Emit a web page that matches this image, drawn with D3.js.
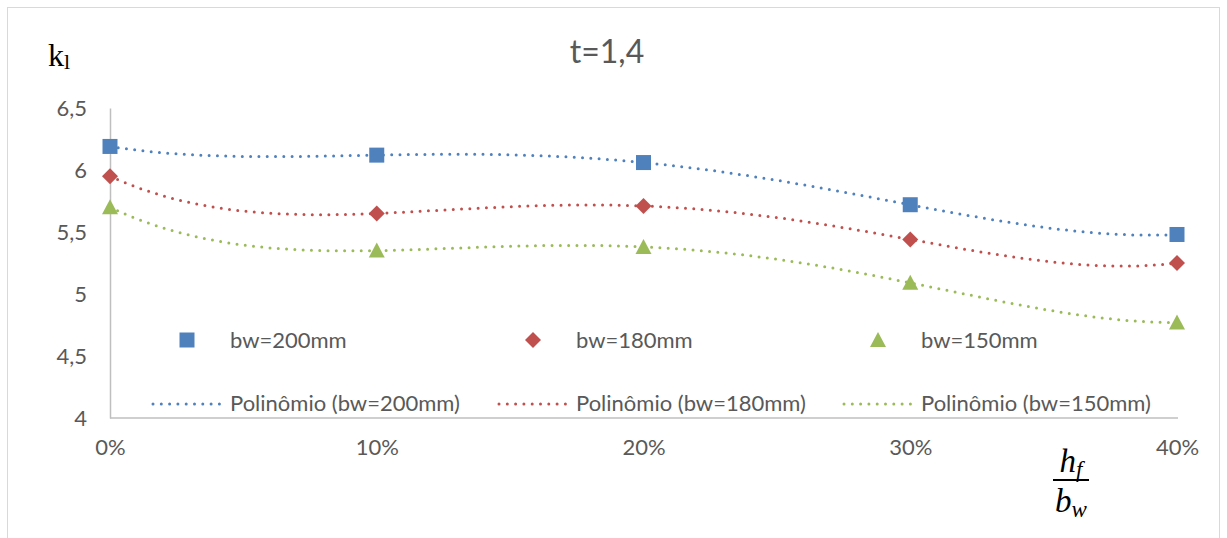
<!DOCTYPE html>
<html>
<head>
<meta charset="utf-8">
<script src="https://cdn.jsdelivr.net/npm/d3@7"></script>
<style>
  body { margin: 0; background: #fff; }
  svg { display: block; }
</style>
</head>
<body>
<div id="container"></div>
<script>
// data
let categories = ["0%", "10%", "20%", "30%", "40%"];
let bw200 = [6.19, 6.12, 6.06, 5.72, 5.48];
let bw180 = [5.95, 5.65, 5.71, 5.44, 5.25];
let bw150 = [5.70, 5.35, 5.38, 5.09, 4.77];
let seriesNames = ["bw=200mm", "bw=180mm", "bw=150mm"];
let yTicks = [4, 4.5, 5, 5.5, 6, 6.5];

let w = 1227;
let h = 538;
let colors = ["#4F81BD", "#C0504D", "#9BBB59"];
let textColor = "#595959";
let font = "Lato, 'Open Sans', sans-serif";

let series = [bw200, bw180, bw150].map(function(vals, i){
  return { name: seriesNames[i], values: vals, color: colors[i], shape: i };
});

let viz = d3.select("#container")
  .append("svg")
    .attr("width", w)
    .attr("height", h)
;

// outer frame
viz.append("rect")
  .attr("x", 7.5).attr("y", 7.5)
  .attr("width", 1212).attr("height", 560)
  .attr("fill", "none")
  .attr("stroke", "#D9D9D9");

let x = d3.scalePoint().domain(categories).range([110, 1177]);
let y = d3.scaleLinear().domain([4, 6.5]).range([418, 108]);

let locale = d3.formatLocale({ decimal: ",", thousands: ".", grouping: [3], currency: ["", ""] });
let fmt = locale.format("~g");

// axes
let yAxis = viz.append("g")
  .attr("transform", "translate(110,0)")
  .call(d3.axisLeft(y).tickValues(yTicks).tickFormat(fmt).tickSize(0).tickPadding(23));
let xAxis = viz.append("g")
  .attr("transform", "translate(0,418)")
  .call(d3.axisBottom(x).tickSize(0).tickPadding(21));

[yAxis, xAxis].forEach(function(g){
  g.select(".domain").attr("stroke", "#BFBFBF").attr("stroke-width", 1.5);
  g.selectAll("text").attr("fill", textColor).style("font-family", font).style("font-size", "22px");
});
// x axis line ends at last category
xAxis.select(".domain").attr("d", "M110,0H1178");

// polynomial trendline (order 4, least squares on category index)
function polyfit(xs, ys, order){
  let n = order + 1;
  let A = [];
  for (let r = 0; r < n; r++){
    A.push([]);
    for (let c = 0; c <= n; c++) A[r].push(0);
  }
  xs.forEach(function(xv, k){
    for (let r = 0; r < n; r++){
      for (let c = 0; c < n; c++) A[r][c] += Math.pow(xv, r + c);
      A[r][n] += ys[k] * Math.pow(xv, r);
    }
  });
  for (let i = 0; i < n; i++){
    let p = i;
    for (let r = i + 1; r < n; r++) if (Math.abs(A[r][i]) > Math.abs(A[p][i])) p = r;
    let t = A[i]; A[i] = A[p]; A[p] = t;
    for (let r = 0; r < n; r++){
      if (r === i) continue;
      let f = A[r][i] / A[i][i];
      for (let c = i; c <= n; c++) A[r][c] -= f * A[i][c];
    }
  }
  return A.map(function(row, i){ return row[n] / row[i]; });
}

let idx = d3.scaleLinear().domain([1, categories.length]).range([110, 1177]);
let lineMaker = d3.line()
  .x(function(d){ return idx(d[0]); })
  .y(function(d){ return y(d[1]); })
;

series.forEach(function(s){
  let xs = s.values.map(function(d, i){ return i + 1; });
  let coef = polyfit(xs, s.values, 4);
  let pts = d3.range(1, categories.length + 0.001, 0.02).map(function(t){
    let v = 0;
    coef.forEach(function(c, k){ v += c * Math.pow(t, k); });
    return [t, v];
  });
  viz.append("path")
    .datum(pts)
    .attr("d", lineMaker)
    .attr("fill", "none")
    .attr("stroke", s.color)
    .attr("stroke-width", 3)
    .attr("stroke-linecap", "round")
    .attr("stroke-dasharray", "0 8.3");
});

// markers
function marker(g, shape, color){
  if (shape === 0){
    g.append("rect").attr("x", -7.5).attr("y", -7.5).attr("width", 15).attr("height", 15).attr("fill", color);
  } else if (shape === 1){
    g.append("path").attr("d", "M0,-8L8,0L0,8L-8,0Z").attr("fill", color);
  } else {
    g.append("path").attr("d", "M0,-8L8,7L-8,7Z").attr("fill", color);
  }
}

series.forEach(function(s){
  s.values.forEach(function(v, i){
    let g = viz.append("g").attr("transform", "translate(" + x(categories[i]) + "," + y(v) + ")");
    marker(g, s.shape, s.color);
  });
});

// legend
let legendX = [187, 533, 878];
series.forEach(function(s, i){
  let g = viz.append("g").attr("transform", "translate(" + legendX[i] + ",340)");
  marker(g, s.shape, s.color);
  viz.append("text")
    .attr("x", legendX[i] + 43).attr("y", 348)
    .attr("fill", textColor)
    .style("font-family", font).style("font-size", "22px")
    .text(s.name);

  let lx = legendX[i] - 34;
  viz.append("line")
    .attr("x1", lx).attr("x2", lx + 70)
    .attr("y1", 404).attr("y2", 404)
    .attr("stroke", s.color)
    .attr("stroke-width", 3)
    .attr("stroke-linecap", "round")
    .attr("stroke-dasharray", "0 8.3");
  viz.append("text")
    .attr("x", legendX[i] + 43).attr("y", 411)
    .attr("fill", textColor)
    .style("font-family", font).style("font-size", "22px")
    .text("Polinômio (" + s.name + ")");
});

// title
viz.append("text")
  .attr("x", 607).attr("y", 63)
  .attr("text-anchor", "middle")
  .attr("fill", textColor)
  .style("font-family", font).style("font-size", "32px")
  .text("t=1,4");

// y axis label k_l
let kl = viz.append("text")
  .attr("x", 48).attr("y", 66)
  .attr("fill", "#000")
  .style("font-family", "'Liberation Serif', serif")
  .style("font-size", "32px");
kl.append("tspan").text("k");
kl.append("tspan").attr("dy", 3).style("font-size", "22px").text("l");

// x axis label hf / bw
let fx = 1071;
let num = viz.append("text")
  .attr("x", fx).attr("y", 472)
  .attr("text-anchor", "middle")
  .style("font-family", "'Liberation Serif', serif")
  .style("font-style", "italic")
  .style("font-size", "33px");
num.append("tspan").text("h");
num.append("tspan").attr("dy", 5).style("font-size", "23px").text("f");
viz.append("line")
  .attr("x1", 1053).attr("x2", 1089)
  .attr("y1", 480).attr("y2", 480)
  .attr("stroke", "#000").attr("stroke-width", 2);
let den = viz.append("text")
  .attr("x", fx).attr("y", 512)
  .attr("text-anchor", "middle")
  .style("font-family", "'Liberation Serif', serif")
  .style("font-style", "italic")
  .style("font-size", "33px");
den.append("tspan").text("b");
den.append("tspan").attr("dy", 5).style("font-size", "23px").text("w");
</script>
</body>
</html>
